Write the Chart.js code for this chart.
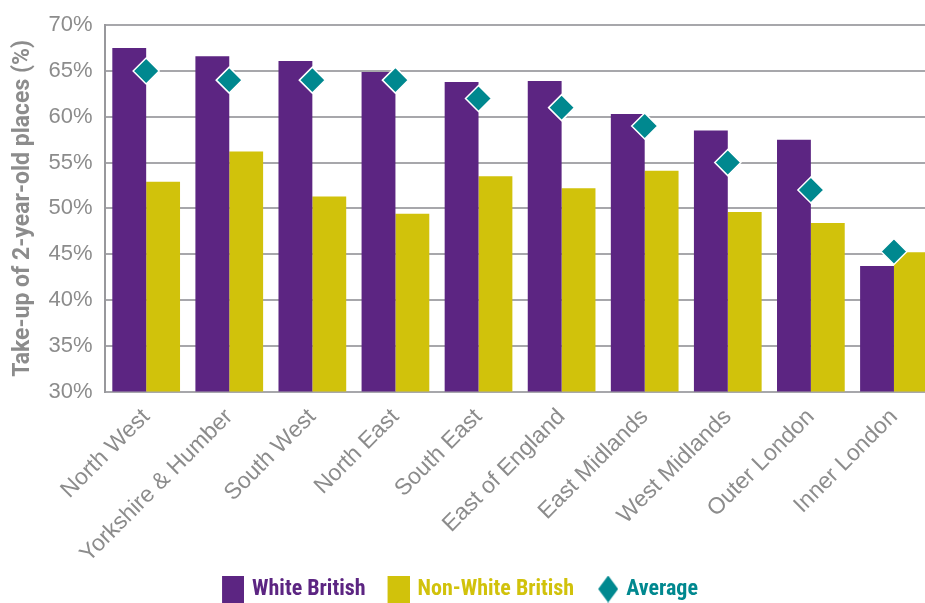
<!DOCTYPE html>
<html>
<head>
<meta charset="utf-8">
<script src="https://cdn.jsdelivr.net/npm/chart.js@4"></script>
<style>
  html, body { margin: 0; padding: 0; background: #fff; overflow: hidden; }
  canvas { display: block; }
</style>
</head>
<body>
<!-- a little wider than the window: the last bar runs off the right edge -->
<canvas id="takeup" width="950" height="603"></canvas>
<script>
var regions = ['North West', 'Yorkshire & Humber', 'South West', 'North East', 'South East',
               'East of England', 'East Midlands', 'West Midlands', 'Outer London', 'Inner London'];
var whiteBritish = [67.5, 66.6, 66.1, 64.9, 63.8, 63.9, 60.3, 58.5, 57.5, 43.7];
var nonWhiteBritish = [52.9, 56.2, 51.3, 49.4, 53.5, 52.2, 54.1, 49.6, 48.4, 45.2];
var average = [65, 64, 64, 64, 62, 61, 59, 55, 52, 45.3];
var yTicks = [30, 35, 40, 45, 50, 55, 60, 65, 70];

var purple = '#5c2582';
var yellow = '#d1c20b';
var teal = '#00888f';
var grey = '#8c8c8c';
var arial = "'Liberation Sans', Arial, sans-serif";

// legend markers: the swatch sits at the right end of a wider, mostly blank
// canvas, so the blank part spaces the items apart
var ICON_W = 35;
function legendIcon(color, diamond) {
  var w = ICON_W + 6;
  var c = document.createElement('canvas');
  c.width = w;
  c.height = 27;
  var g = c.getContext('2d');
  g.fillStyle = color;
  if (diamond) {
    var x0 = w - 20;
    g.beginPath();
    g.moveTo(x0 + 10, 0); g.lineTo(x0 + 20, 13.5); g.lineTo(x0 + 10, 27); g.lineTo(x0, 13.5);
    g.closePath();
    g.fill();
  } else {
    g.fillRect(w - 22, 0, 22, 27);
  }
  return c;
}
var icons = [legendIcon(purple), legendIcon(yellow), legendIcon(teal, true)];
var legendColours = [purple, yellow, teal];

var ctx = document.getElementById('takeup').getContext('2d');
var chart = new Chart(ctx, {
  type: 'bar',
  data: {
    labels: regions,
    datasets: [{
      label: 'White British',
      data: whiteBritish,
      backgroundColor: purple,
      order: 1
    }, {
      label: 'Non-White British',
      data: nonWhiteBritish,
      backgroundColor: yellow,
      order: 1
    }, {
      type: 'line',
      label: 'Average',
      data: average,
      showLine: false,
      pointStyle: 'rectRot',
      pointRadius: 13,
      pointHoverRadius: 13,
      pointBackgroundColor: teal,
      pointBorderColor: '#ffffff',
      pointBorderWidth: 1.5,
      order: 0
    }]
  },
  options: {
    responsive: false,
    animation: false,
    layout: { padding: { top: -5, right: 0, left: -46, bottom: -7 } },
    datasets: {
      bar: { categoryPercentage: 0.815, barPercentage: 1 }
    },
    scales: {
      x: {
        grid: { display: false },
        border: { display: false },
        ticks: {
          color: grey,
          font: { family: arial, size: 23 },
          maxRotation: 45,
          minRotation: 45,
          padding: 4
        },
        afterFit: function (scale) { scale.paddingLeft = 0; scale.paddingRight = 0; }
      },
      y: {
        min: 30,
        max: 70,
        afterBuildTicks: function (axis) {
          axis.ticks = yTicks.map(function (v) { return { value: v }; });
        },
        grid: { color: '#a7a7ab', lineWidth: 2, drawTicks: false },
        border: { color: '#98989c', width: 2 },
        ticks: {
          color: grey,
          padding: 12,
          font: { family: arial, size: 22 },
          callback: function (v) { return v + '%'; }
        },
        title: {
          display: true,
          text: 'Take-up of 2-year-old places (%)',
          color: grey,
          font: { family: 'Roboto, sans-serif', size: 23, weight: 'bold' },
          padding: { top: 55, bottom: 0 }
        }
      }
    },
    plugins: {
      tooltip: { enabled: false },
      legend: {
        position: 'bottom',
        labels: {
          usePointStyle: true,
          pointStyleWidth: ICON_W,
          padding: 6,
          font: { family: "'Liberation Sans Narrow', 'Roboto Condensed', Roboto, sans-serif", size: 22, weight: 'bold' },
          sort: function (a, b) { return a.datasetIndex - b.datasetIndex; },
          generateLabels: function (chart) {
            var items = Chart.defaults.plugins.legend.labels.generateLabels(chart);
            items.forEach(function (it) {
              it.pointStyle = icons[it.datasetIndex];
              it.fontColor = legendColours[it.datasetIndex];
              it.lineWidth = 0;
            });
            return items;
          }
        }
      }
    }
  }
});
</script>
</body>
</html>
